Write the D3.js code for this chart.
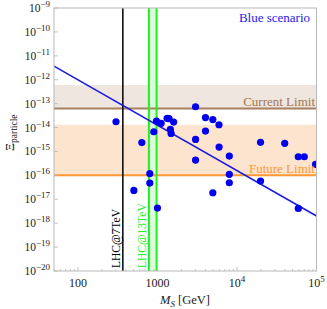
<!DOCTYPE html>
<html lang="en">
<head>
<meta charset="utf-8">
<script src="https://d3js.org/d3.v7.min.js"></script>
<style>
  body { margin: 0; background: #fff; }
  svg text { font-family: "Liberation Serif", "DejaVu Serif", serif; }
</style>
</head>
<body>
<svg id="chart" width="327" height="309"></svg>
<script>
// scan points: mass M_S in GeV, Xi value
var massGeV = [301, 636, 505, 801, 801, 899, 972, 1000, 1112, 1322, 1400, 1599, 1453, 1483,
               3013, 3013, 3013, 4016, 4016, 4970, 5937, 4970, 5957, 8011, 8011, 8011,
               19780, 19780, 39810, 59020, 70200, 97170, 59020];
var xiValue = [1.75e-14, 2.35e-15, 2.35e-17, 1.19e-16, 4.76e-17, 6.67e-15, 1.87e-14, 4.3e-18,
               1.5e-14, 2.43e-14, 2.34e-14, 1.7e-14, 8.4e-15, 5.7e-15,
               7.4e-14, 3.2e-15, 4.37e-16, 2.6e-14, 7.1e-15, 2.16e-14, 1.31e-14, 1.87e-17,
               1.53e-15, 6.43e-16, 1.1e-16, 4.9e-17,
               2.4e-15, 5.78e-17, 2.18e-15, 6.0e-16, 6.0e-16, 2.88e-16, 4.16e-18];

// blue fit line endpoints
var fitMass = [50, 1e5];
var fitXi = [3.7e-12, 2.0e-18];

// limits
var currentLimit = [6.2e-14, 6e-13];   // line, top of band
var futureLimit = [1.0e-16, 1.3e-14];
var lhc7 = 367;
var lhc13 = [780, 975];

var xTicks = [100, 1000, 1e4, 1e5];
var xTickLabels = ["100", "1000", "10^4", "10^5"];
var yTicks = d3.range(-20, -8).map(function(e) { return Math.pow(10, e); });

var svg = d3.select("#chart");
var pL = 54, pR = 316.5, pT = 8, pB = 271;

var x = d3.scaleLog().domain([50, 1e5]).range([pL, pR]);
var y = d3.scaleLog().domain([1e-20, 1e-9]).range([pB, pT]);

svg.append("defs").append("clipPath").attr("id", "clip")
  .append("rect").attr("x", pL).attr("y", pT)
  .attr("width", pR - pL).attr("height", pB - pT);

var plot = svg.append("g").attr("clip-path", "url(#clip)");

// bands
plot.append("rect").attr("x", pL).attr("width", pR - pL)
  .attr("y", y(currentLimit[1])).attr("height", y(currentLimit[0]) - y(currentLimit[1]))
  .attr("fill", "#efe6e0");
plot.append("rect").attr("x", pL).attr("width", pR - pL)
  .attr("y", y(futureLimit[1])).attr("height", y(futureLimit[0]) - y(futureLimit[1]))
  .attr("fill", "#fde4ce");
plot.append("rect").attr("x", x(lhc13[0])).attr("width", x(lhc13[1]) - x(lhc13[0]))
  .attr("y", pT).attr("height", pB - pT)
  .attr("fill", "#dcfcdc");

// horizontal limit lines
plot.append("line").attr("x1", pL).attr("x2", pR)
  .attr("y1", y(currentLimit[0])).attr("y2", y(currentLimit[0]))
  .attr("stroke", "#a88060").attr("stroke-width", 2);
plot.append("line").attr("x1", pL).attr("x2", pR)
  .attr("y1", y(futureLimit[0])).attr("y2", y(futureLimit[0]))
  .attr("stroke", "#ff9933").attr("stroke-width", 2);

// vertical LHC lines
plot.append("line").attr("x1", x(lhc7)).attr("x2", x(lhc7))
  .attr("y1", pT).attr("y2", pB).attr("stroke", "#000").attr("stroke-width", 1.5);
lhc13.forEach(function(m) {
  plot.append("line").attr("x1", x(m)).attr("x2", x(m))
    .attr("y1", pT).attr("y2", pB).attr("stroke", "#22ee22").attr("stroke-width", 2);
});

// fit line
plot.append("line")
  .attr("x1", x(fitMass[0])).attr("y1", y(fitXi[0]))
  .attr("x2", x(fitMass[1])).attr("y2", y(fitXi[1]))
  .attr("stroke", "#1a1ae0").attr("stroke-width", 1.5);

// points
plot.selectAll("circle").data(massGeV).enter().append("circle")
  .attr("cx", function(d) { return x(d); })
  .attr("cy", function(d, i) { return y(xiValue[i]); })
  .attr("r", 3.6)
  .attr("fill", "#0000ee");

// frame
svg.append("rect").attr("x", pL).attr("y", pT)
  .attr("width", pR - pL).attr("height", pB - pT)
  .attr("fill", "none").attr("stroke", "#b8b8b8").attr("stroke-width", 1);

// ticks
var minorX = [];
[10, 100, 1000, 10000].forEach(function(b) {
  for (var k = 1; k < 10; k++) { var v = b * k; if (v >= 50 && v <= 1e5) minorX.push(v); }
});
svg.selectAll(".xt").data(minorX).enter().append("line")
  .attr("x1", function(d) { return x(d); }).attr("x2", function(d) { return x(d); })
  .attr("y1", pB).attr("y2", function(d) { return xTicks.indexOf(d) >= 0 ? pB - 4 : pB - 2; })
  .attr("stroke", "#b8b8b8").attr("stroke-width", 0.8);
svg.selectAll(".yt").data(yTicks).enter().append("line")
  .attr("x1", pL).attr("x2", pL + 4)
  .attr("y1", function(d) { return y(d); }).attr("y2", function(d) { return y(d); })
  .attr("stroke", "#b8b8b8").attr("stroke-width", 0.8);

// x tick labels
xTicks.forEach(function(t, i) {
  var lab = xTickLabels[i];
  var tx = svg.append("text").attr("x", x(t)).attr("y", pB + 16)
    .attr("text-anchor", "middle").attr("font-size", 12).attr("fill", "#222");
  if (lab.indexOf("^") >= 0) {
    var parts = lab.split("^");
    tx.append("tspan").text(parts[0]);
    tx.append("tspan").attr("dy", -5).attr("font-size", 9).text(parts[1]);
  } else {
    tx.text(lab);
  }
});

// y tick labels
yTicks.forEach(function(t) {
  var e = Math.round(Math.log10(t));
  var tx = svg.append("text").attr("x", pL - 4).attr("y", y(t) + 4)
    .attr("text-anchor", "end").attr("font-size", 11.5).attr("fill", "#222");
  tx.append("tspan").text("10");
  tx.append("tspan").attr("dy", -5).attr("font-size", 9).text("\u2212" + Math.abs(e));
});

// axis titles
var xt = svg.append("text").attr("x", 185).attr("y", pB + 33)
  .attr("text-anchor", "middle").attr("font-size", 12.5).attr("fill", "#222");
xt.append("tspan").attr("font-style", "italic").text("M");
xt.append("tspan").attr("font-style", "italic").attr("font-size", 9).attr("dy", 3).text("S");
xt.append("tspan").attr("dy", -3).text(" [GeV]");

var yt = svg.append("text").attr("transform", "translate(14,151) rotate(-90)")
  .attr("text-anchor", "start").attr("font-size", 12.5).attr("fill", "#222");
yt.append("tspan").text("\u039E");
yt.append("tspan").attr("font-size", 9.5).attr("dy", 3).text("particle");

// annotations
svg.append("text").attr("x", 310).attr("y", 22).attr("text-anchor", "end")
  .attr("font-size", 13).attr("fill", "#2222ee").text("Blue scenario");
svg.append("text").attr("x", 315).attr("y", y(currentLimit[0]) - 2.5).attr("text-anchor", "end")
  .attr("font-size", 13).attr("fill", "#a07850").text("Current Limit");
svg.append("text").attr("x", 315).attr("y", y(futureLimit[0]) - 2.5).attr("text-anchor", "end")
  .attr("font-size", 13).attr("fill", "#ff9933").text("Future Limit");

svg.append("text").attr("transform", "translate(" + (x(lhc7) - 3) + ",268) rotate(-90)")
  .attr("font-size", 11.5).attr("fill", "#000").text("LHC@7TeV");
svg.append("text").attr("transform", "translate(" + (x(lhc13[0]) - 3) + ",268) rotate(-90)")
  .attr("font-size", 11.5).attr("fill", "#22ee22").text("LHC@13TeV");
</script>
</body>
</html>
